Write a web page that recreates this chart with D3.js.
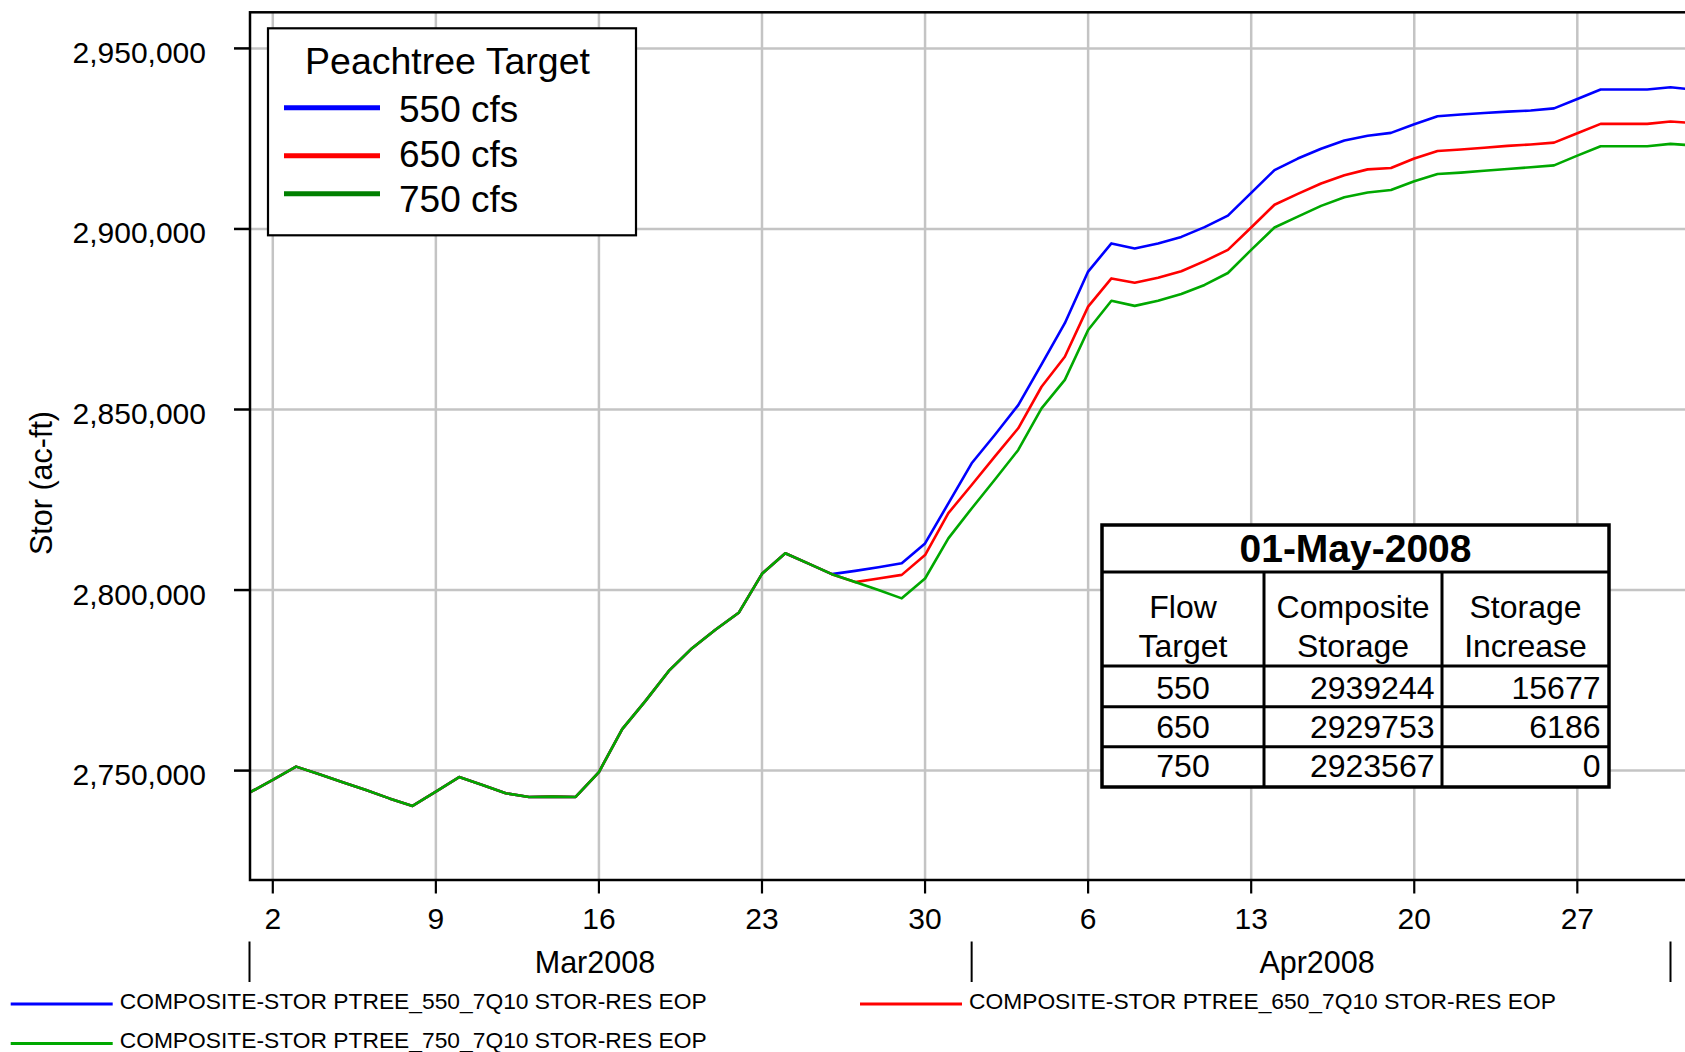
<!DOCTYPE html>
<html><head><meta charset="utf-8">
<script src="https://cdn.jsdelivr.net/npm/d3@7"></script>
<style>
body{margin:0;background:#fff}
svg{display:block}
text{font-family:"Liberation Sans",Arial,Helvetica,sans-serif;fill:#000}
</style>
</head><body>
<svg id="chart" width="1685" height="1052"></svg>
<script>
// ---------------- data ----------------
const firstDay = new Date(Date.UTC(2008, 2, 1));   // 01-Mar-2008
const lastDay  = new Date(Date.UTC(2008, 4, 3));   // exclusive (through 02-May-2008)
const dates = d3.utcDay.range(firstDay, lastDay);

// daily composite storage (ac-ft), 01-Mar .. 02-May 2008
const stor550 = [
  2743900,2747400,2751100,2749000,2746800,2744600,2742300,2740200,2744200,2748200,
  2746000,2743700,2742700,2742800,2742700,2749600,2761500,2769300,2777600,2783900,
  2789000,2793700,2804500,2810200,2807300,2804400,2805300,2806300,2807400,2812900,
  2824000,2835100,2843000,2851200,2862500,2873900,2888200,2896000,2894600,2896000,
  2897800,2900500,2903700,2910000,2916300,2919500,2922200,2924500,2925800,2926600,
  2929000,2931200,2931700,2932100,2932500,2932800,2933400,2936000,2938600,2938600,
  2938600,2939244,2938600
];
const stor650 = [
  2743900,2747400,2751100,2749000,2746800,2744600,2742300,2740200,2744200,2748200,
  2746000,2743700,2742700,2742800,2742700,2749600,2761500,2769300,2777600,2783900,
  2789000,2793700,2804500,2810200,2807300,2804400,2802200,2803200,2804200,2809700,
  2821300,2829100,2837000,2844800,2856300,2864600,2878500,2886300,2885100,2886500,
  2888300,2891100,2894200,2900400,2906700,2909700,2912600,2914900,2916500,2916900,
  2919500,2921600,2922000,2922500,2923000,2923400,2923900,2926500,2929100,2929100,
  2929100,2929753,2929300
];
const stor750 = [
  2743900,2747400,2751100,2749000,2746800,2744600,2742300,2740200,2744200,2748200,
  2746000,2743700,2742700,2742800,2742700,2749600,2761500,2769300,2777600,2783900,
  2789000,2793700,2804500,2810200,2807300,2804400,2802200,2800000,2797700,2803200,
  2814300,2822600,2830600,2838800,2850300,2858200,2872000,2880100,2878700,2880100,
  2882000,2884500,2887800,2894200,2900400,2903400,2906400,2908800,2910100,2910800,
  2913200,2915200,2915600,2916100,2916600,2917100,2917600,2920300,2922900,2922900,
  2922900,2923567,2923100
];

const seriesNames = [
  "COMPOSITE-STOR PTREE_550_7Q10 STOR-RES EOP",
  "COMPOSITE-STOR PTREE_650_7Q10 STOR-RES EOP",
  "COMPOSITE-STOR PTREE_750_7Q10 STOR-RES EOP"
];
const legendTitle = "Peachtree Target";
const legendLabels = ["550 cfs", "650 cfs", "750 cfs"];
const yTickValues = [2750000, 2800000, 2850000, 2900000, 2950000];
const yTitle = "Stor (ac-ft)";

const tableTitle = "01-May-2008";
const tableHeaders = [["Flow","Target"],["Composite","Storage"],["Storage","Increase"]];
const flowTargets = [550, 650, 750];
const compositeStorage = [2939244, 2929753, 2923567];
const storageIncrease = [15677, 6186, 0];

// ---------------- styles / layout ----------------
const lineColors = ["#0000ff", "#ff0000", "#00a800"];
const legendColors = ["#0000ff", "#ff0000", "#008000"];

const plot = {left: 250, top: 12.3, right: 1710, bottom: 880};

const svg = d3.select("#chart");

const x = d3.scaleUtc()
  .domain([new Date(Date.UTC(2008,2,1)), new Date(Date.UTC(2008,4,1))])
  .range([249.5, 1670.5]);
const y = d3.scaleLinear().domain([2719700, 2960000]).range([880, 12.3]);

// clip
svg.append("defs").append("clipPath").attr("id","clip")
  .append("rect").attr("x", plot.left).attr("y", plot.top)
  .attr("width", plot.right - plot.left).attr("height", plot.bottom - plot.top);

// gridlines
const weekTicks = d3.utcDay.range(new Date(Date.UTC(2008,2,2)), new Date(Date.UTC(2008,4,2)), 7);
const grid = svg.append("g");
grid.selectAll("line.v").data(weekTicks).join("line")
  .attr("x1", d => x(d)).attr("x2", d => x(d))
  .attr("y1", plot.top).attr("y2", plot.bottom)
  .attr("stroke", "#c4c4c4").attr("stroke-width", 2.5);
grid.selectAll("line.h").data(yTickValues).join("line")
  .attr("x1", plot.left).attr("x2", plot.right)
  .attr("y1", d => y(d)).attr("y2", d => y(d))
  .attr("stroke", "#c4c4c4").attr("stroke-width", 2.5);

// lines
const seriesData = [stor550, stor650, stor750];
const lineGen = d3.line().x((d, i) => x(dates[i])).y(d => y(d));
const lines = svg.append("g").attr("clip-path", "url(#clip)");
seriesData.forEach((s, k) => {
  lines.append("path").datum(s)
    .attr("fill", "none").attr("stroke", lineColors[k])
    .attr("stroke-width", 2.6).attr("stroke-linejoin", "round")
    .attr("d", lineGen);
});

// frame
svg.append("rect").attr("x", plot.left).attr("y", plot.top)
  .attr("width", plot.right - plot.left).attr("height", plot.bottom - plot.top)
  .attr("fill", "none").attr("stroke", "#000").attr("stroke-width", 2.5);

// y axis
const yAxis = svg.append("g");
yAxis.selectAll("line").data(yTickValues).join("line")
  .attr("x1", plot.left - 16).attr("x2", plot.left)
  .attr("y1", d => y(d)).attr("y2", d => y(d))
  .attr("stroke", "#000").attr("stroke-width", 2.5);
yAxis.selectAll("text").data(yTickValues).join("text")
  .attr("x", 206).attr("y", d => y(d) + 14.5)
  .attr("text-anchor", "end").attr("font-size", 30)
  .text(d => d3.format(",")(d));
svg.append("text")
  .attr("transform", "translate(52,483) rotate(-90)")
  .attr("text-anchor", "middle").attr("font-size", 30.5)
  .text(yTitle);

// x axis
const xAxis = svg.append("g");
xAxis.selectAll("line").data(weekTicks).join("line")
  .attr("x1", d => x(d)).attr("x2", d => x(d))
  .attr("y1", plot.bottom).attr("y2", plot.bottom + 13.5)
  .attr("stroke", "#000").attr("stroke-width", 2.2);
xAxis.selectAll("text").data(weekTicks).join("text")
  .attr("x", d => x(d)).attr("y", 928.5)
  .attr("text-anchor", "middle").attr("font-size", 30)
  .text(d => d3.utcFormat("%-d")(d));

const monthBounds = d3.utcMonth.range(new Date(Date.UTC(2008,2,1)), new Date(Date.UTC(2008,4,2)));
xAxis.selectAll("line.m").data(monthBounds).join("line")
  .attr("x1", d => x(d)).attr("x2", d => x(d))
  .attr("y1", 941.5).attr("y2", 982)
  .attr("stroke", "#000").attr("stroke-width", 2);
const months = monthBounds.slice(0, 2);
xAxis.selectAll("text.m").data(months).join("text")
  .attr("x", d => x(d3.utcDay.offset(d, 15)) - 4).attr("y", 973.3)
  .attr("text-anchor", "middle").attr("font-size", 30.5)
  .text(d => d3.utcFormat("%b%Y")(d));

// top-left legend
const lg = svg.append("g");
lg.append("rect").attr("x", 268).attr("y", 28.3).attr("width", 368).attr("height", 207)
  .attr("fill", "#fff").attr("stroke", "#000").attr("stroke-width", 2.2);
lg.append("text").attr("x", 447.5).attr("y", 73.5).attr("text-anchor", "middle")
  .attr("font-size", 37.5).text(legendTitle);
const legendLineDy = [-14, -11, -18];
legendLabels.forEach((lab, i) => {
  const base = 121.7 + i * 45;
  lg.append("line").attr("x1", 284).attr("x2", 380)
    .attr("y1", base + legendLineDy[i]).attr("y2", base + legendLineDy[i])
    .attr("stroke", legendColors[i]).attr("stroke-width", 5);
  lg.append("text").attr("x", 399).attr("y", base).attr("font-size", 37).text(lab);
});

// table
const tb = svg.append("g");
const colX = [1102, 1264, 1442, 1609];
const rowY = [525, 572, 666, 706.7, 746.7, 787];
tb.append("rect").attr("x", colX[0]).attr("y", rowY[0])
  .attr("width", colX[3] - colX[0]).attr("height", rowY[5] - rowY[0])
  .attr("fill", "#fff");
tb.append("text").attr("x", (colX[0] + colX[3]) / 2).attr("y", 562)
  .attr("text-anchor", "middle").attr("font-size", 39).attr("font-weight", "bold")
  .text(tableTitle);
tableHeaders.forEach((h, c) => {
  const cx = (colX[c] + colX[c + 1]) / 2;
  h.forEach((t, j) => {
    tb.append("text").attr("x", cx).attr("y", 618 + j * 38.7)
      .attr("text-anchor", "middle").attr("font-size", 32).text(t);
  });
});
const rowBase = [698.5, 737.7, 777.2];
flowTargets.forEach((f, r) => {
  tb.append("text").attr("x", (colX[0] + colX[1]) / 2).attr("y", rowBase[r])
    .attr("text-anchor", "middle").attr("font-size", 32).text(f);
  tb.append("text").attr("x", colX[2] - 7.5).attr("y", rowBase[r])
    .attr("text-anchor", "end").attr("font-size", 32).text(compositeStorage[r]);
  tb.append("text").attr("x", colX[3] - 8.5).attr("y", rowBase[r])
    .attr("text-anchor", "end").attr("font-size", 32).text(storageIncrease[r]);
});
// table rules
rowY.slice(1, 5).forEach(yy => {
  tb.append("line").attr("x1", colX[0]).attr("x2", colX[3]).attr("y1", yy).attr("y2", yy)
    .attr("stroke", "#000").attr("stroke-width", 3);
});
colX.slice(1, 3).forEach(xx => {
  tb.append("line").attr("x1", xx).attr("x2", xx).attr("y1", rowY[1]).attr("y2", rowY[5])
    .attr("stroke", "#000").attr("stroke-width", 3);
});
tb.append("rect").attr("x", colX[0]).attr("y", rowY[0])
  .attr("width", colX[3] - colX[0]).attr("height", rowY[5] - rowY[0])
  .attr("fill", "none").attr("stroke", "#000").attr("stroke-width", 3.5);

// bottom legend
const bl = svg.append("g");
const blPos = [[10.7, 1004, 1009.3], [860, 1004, 1009.3], [10.7, 1043.5, 1048]];
seriesNames.forEach((n, i) => {
  const [lx, ly, ty] = blPos[i];
  bl.append("line").attr("x1", lx).attr("x2", lx + 102).attr("y1", ly).attr("y2", ly)
    .attr("stroke", lineColors[i]).attr("stroke-width", 2.8);
  bl.append("text").attr("x", lx + 109).attr("y", ty).attr("font-size", 22.8).text(n);
});
</script>
</body></html>
